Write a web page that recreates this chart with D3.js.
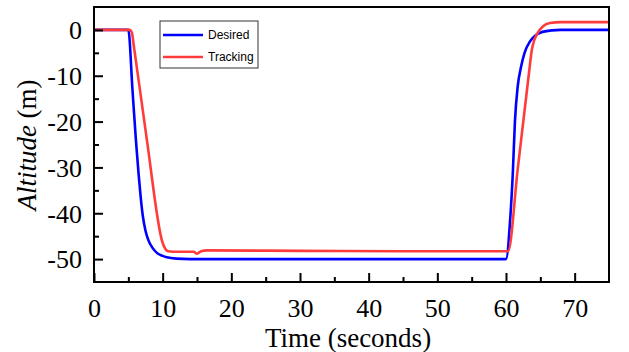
<!DOCTYPE html>
<html>
<head>
<meta charset="utf-8">
<script src="https://cdn.jsdelivr.net/npm/d3@7"></script>
<style>
  body { margin: 0; background: #fff; }
  svg { display: block; }
</style>
</head>
<body>
<svg id="chart" width="629" height="352"></svg>
<script>
// values
var desiredT = [0, 5.0, 5.6, 6.1, 6.5, 6.8, 7.1, 7.5, 7.9, 8.5, 9.2, 10.0, 10.6, 12.0, 14.0, 60.0, 60.6, 61.0, 61.3, 61.7, 62.2, 62.7, 63.5, 64.2, 65.0, 66.7, 68.0, 75];
var desiredA = [0, 0, -13, -24, -31.5, -36.5, -40.5, -43.8, -45.8, -47.5, -48.7, -49.3, -49.6, -49.9, -50, -50, -41.5, -31, -20, -12.4, -8, -5, -2.5, -1.3, -0.6, -0.1, 0, 0];

var trackingT = [0, 5.2, 5.5, 5.8, 7.7, 10.0, 10.4, 10.8, 11.5, 14.5, 15.0, 15.6, 16.5, 30, 45, 60.3, 61.7, 63.3, 63.8, 64.6, 65.4, 66.4, 68.0, 75];
var trackingA = [0, 0, -0.5, -3.5, -24, -46.5, -47.8, -48.3, -48.4, -48.4, -48.8, -48.3, -48.1, -48.2, -48.3, -48.3, -30.5, -10, -4, -0.7, 0.8, 1.5, 1.7, 1.7];

var xTicks = [0, 10, 20, 30, 40, 50, 60, 70];
var yTicks = [0, -10, -20, -30, -40, -50];

var margin = {left: 94, top: 7, right: 20, bottom: 70};
var W = 629, H = 352;
var serif = '"Liberation Serif", "Times New Roman", serif';
var svg = d3.select('#chart');

var x = d3.scaleLinear().domain([0, 75]).range([margin.left, W - margin.right]);
var y = d3.scaleLinear().domain([-55, 5]).range([H - margin.bottom, margin.top]);

var line = d3.line().x(function(d){ return x(d[0]); }).y(function(d){ return y(d[1]); }).curve(d3.curveMonotoneX);

var desired = d3.zip(desiredT, desiredA);
var tracking = d3.zip(trackingT, trackingA);

var plot = svg.append('g');
plot.append('path').datum(desired).attr('d', line)
  .attr('fill', 'none').attr('stroke', '#0000ff').attr('stroke-width', 2.6);
plot.append('path').datum(tracking).attr('d', line)
  .attr('fill', 'none').attr('stroke', '#ff3c3c').attr('stroke-width', 2.6);

// frame
svg.append('rect')
  .attr('x', x(0)).attr('y', y(5))
  .attr('width', x(75) - x(0)).attr('height', y(-55) - y(5))
  .attr('fill', 'none').attr('stroke', '#000').attr('stroke-width', 2);

// axes with inward ticks, plain hyphen for negatives
var xAxis = svg.append('g').attr('transform', 'translate(0,' + y(-55) + ')')
  .call(d3.axisBottom(x).tickValues(xTicks).tickSize(-9).tickPadding(17).tickFormat(String));
svg.append('g').attr('transform', 'translate(0,' + y(-55) + ')')
  .call(d3.axisBottom(x).tickValues(d3.range(5, 75, 10)).tickSize(-5).tickFormat(''));
var yAxis = svg.append('g').attr('transform', 'translate(' + x(0) + ',0)')
  .call(d3.axisLeft(y).tickValues(yTicks).tickSize(-9).tickPadding(12).tickFormat(String));
svg.append('g').attr('transform', 'translate(' + x(0) + ',0)')
  .call(d3.axisLeft(y).tickValues(d3.range(-5, -55, -10)).tickSize(-5).tickFormat(''));

svg.selectAll('.domain').remove();
svg.selectAll('.tick line').attr('stroke', '#000').attr('stroke-width', 2);
svg.selectAll('.tick text')
  .attr('font-family', serif)
  .attr('font-size', 26).attr('fill', '#000');
yAxis.selectAll('.tick text').attr('dy', '0.34em');
xAxis.selectAll('.tick text').attr('dy', '0.7em');

// axis titles
svg.append('text')
  .attr('x', 348).attr('y', 347)
  .attr('text-anchor', 'middle')
  .attr('font-family', serif)
  .attr('font-size', 27)
  .text('Time (seconds)');

var yt = svg.append('text')
  .attr('transform', 'translate(36,145) rotate(-90)')
  .attr('text-anchor', 'middle')
  .attr('font-family', serif)
  .attr('font-size', 27);
yt.append('tspan').attr('font-style', 'italic').text('Altitude');
yt.append('tspan').text(' (m)');

// legend
var names = ['Desired', 'Tracking'];
var colors = ['#0000ff', '#ff3c3c'];
var lg = svg.append('g').attr('transform', 'translate(160,21)');
lg.append('rect').attr('width', 98).attr('height', 47)
  .attr('fill', '#fff').attr('stroke', '#333').attr('stroke-width', 1);
names.forEach(function(n, i){
  var g = lg.append('g').attr('transform', 'translate(0,' + (14 + i * 22) + ')');
  g.append('line').attr('x1', 3).attr('x2', 43).attr('stroke', colors[i]).attr('stroke-width', 2.6);
  g.append('text').attr('x', 48).attr('dy', '0.35em')
    .attr('font-family', '"Liberation Sans", Arial, sans-serif')
    .attr('font-size', 12).text(n);
});
</script>
</body>
</html>
